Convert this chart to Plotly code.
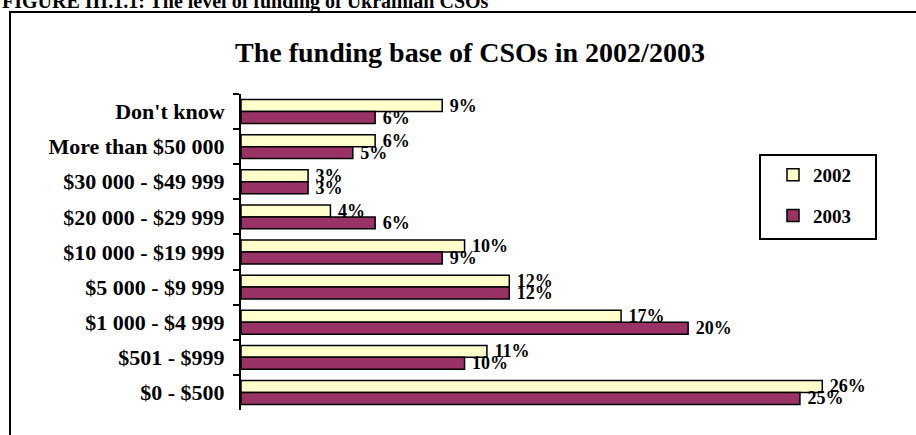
import plotly.graph_objects as go

# Funding brackets, listed top to bottom as they appear on the chart
categories = [
    "Don't know",
    "More than $50 000",
    "$30 000 - $49 999",
    "$20 000 - $29 999",
    "$10 000 - $19 999",
    "$5 000 - $9 999",
    "$1 000 - $4 999",
    "$501 - $999",
    "$0 - $500",
]
share_2002 = [9, 6, 3, 4, 10, 12, 17, 11, 26]
share_2003 = [6, 5, 3, 6, 9, 12, 20, 10, 25]

W, H = 916, 435
L, R, T, B = 241, 49, 94, 25
PW, PH = W - L - R, H - T - B

def px2x(px):
    return (px - L) / PW

def py2y(py):
    return (H - B - py) / PH

SERIF = "Liberation Serif, Times New Roman, serif"
bold = dict(family=SERIF, color="black", weight="bold")

fig = go.Figure()
fig.add_trace(go.Bar(
    y=categories, x=share_2002, orientation="h", name="2002",
    legendgroup="a",
    marker=dict(color="#FFFFCC", line=dict(color="black", width=1.5)),
    text=share_2002, texttemplate="\u00a0%{x}%", textposition="outside",
    textfont=dict(size=18, **bold), cliponaxis=False, constraintext="none",
))
fig.add_trace(go.Bar(
    y=categories, x=share_2003, orientation="h", name="2003",
    legendgroup="b",
    marker=dict(color="#993366", line=dict(color="black", width=1.5)),
    text=share_2003, texttemplate="\u00a0%{x}%", textposition="outside",
    textfont=dict(size=18, **bold), cliponaxis=False, constraintext="none",
))

fig.update_layout(
    width=W, height=H,
    margin=dict(l=L, r=R, t=T, b=B),
    paper_bgcolor="white", plot_bgcolor="white",
    barmode="group", bargap=0.32, bargroupgap=0,
    xaxis=dict(range=[0, 28], visible=False, fixedrange=True),
    yaxis=dict(
        autorange="reversed", showline=True, linecolor="black", linewidth=2,
        ticks="outside", tickson="boundaries", ticklen=6, tickwidth=2,
        tickcolor="black", ticklabelstandoff=10,
        tickfont=dict(size=22, **bold), showgrid=False,
    ),
    legend=dict(
        x=px2x(773), y=py2y(156), xanchor="left", yanchor="top",
        borderwidth=0, bgcolor="rgba(0,0,0,0)",
        font=dict(size=19, **bold), tracegroupgap=13,
    ),
    showlegend=True,
    shapes=[
        dict(type="rect", xref="paper", yref="paper",
             x0=px2x(10), x1=px2x(940), y0=py2y(470), y1=py2y(12),
             line=dict(color="black", width=2), layer="below"),
        dict(type="rect", xref="paper", yref="paper",
             x0=px2x(760), x1=px2x(876), y0=py2y(239), y1=py2y(155),
             line=dict(color="black", width=2), fillcolor="white", layer="below"),
    ],
    annotations=[
        dict(text="The funding base of CSOs in 2002/2003", x=px2x(470), y=py2y(53),
             xref="paper", yref="paper", xanchor="center", yanchor="middle",
             showarrow=False, font=dict(size=28, **bold)),
        dict(text="FIGURE III.1.1: The level of funding of Ukrainian CSOs",
             x=px2x(0), y=py2y(15), xref="paper", yref="paper",
             xanchor="left", yanchor="bottom", showarrow=False,
             font=dict(size=20, **bold)),
    ],
)

fig.write_html("out.html")
